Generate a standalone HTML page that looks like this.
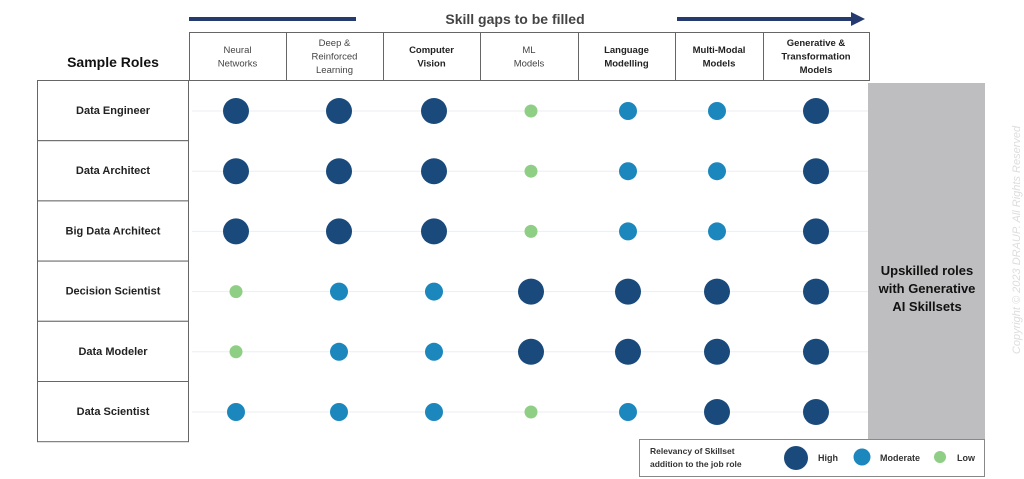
<!DOCTYPE html>
<html><head><meta charset="utf-8"><style>
html,body{margin:0;padding:0;background:#fff;}
svg{display:block;font-family:"Liberation Sans",sans-serif;}
</style></head><body>
<svg id="chart" width="1024" height="479" viewBox="0 0 1024 479">
<rect x="0" y="0" width="1024" height="479" fill="#fff"/>
<rect x="189" y="17" width="167" height="4" fill="#253a6e"/>
<rect x="677" y="17" width="175" height="4" fill="#253a6e"/>
<polygon points="851,12 865,19 851,26" fill="#253a6e"/>
<text x="515" y="24" text-anchor="middle" font-size="14" font-weight="bold" fill="#444">Skill gaps to be filled</text>
<text x="113" y="67" text-anchor="middle" font-size="14" font-weight="bold" fill="#111">Sample Roles</text>
<g id="grid"></g>
<rect x="868" y="83" width="117" height="357" fill="#bebdc0"/>
<text text-anchor="middle" font-size="13" font-weight="bold" fill="#111">
<tspan x="927" y="275">Upskilled roles</tspan><tspan x="927" y="293">with Generative</tspan><tspan x="927" y="311">AI Skillsets</tspan></text>
<text x="0" y="0" transform="translate(1020,240) rotate(-90)" text-anchor="middle" font-size="11" font-style="italic" fill="#ddd">Copyright © 2023 DRAUP. All Rights Reserved</text>
<g>
<rect x="639.5" y="439.5" width="345" height="37" fill="#fff" stroke="#888"/>
<text font-size="8.5" font-weight="bold" fill="#333"><tspan x="650" y="454">Relevancy of Skillset</tspan><tspan x="650" y="467">addition to the job role</tspan></text>
<circle cx="796" cy="458" r="12" fill="#1a4a7c"/>
<text x="818" y="461" font-size="9" font-weight="bold" fill="#333">High</text>
<circle cx="862" cy="457" r="8.5" fill="#1b87bd"/>
<text x="880" y="461" font-size="9" font-weight="bold" fill="#333">Moderate</text>
<circle cx="940" cy="457" r="6" fill="#8fcf85"/>
<text x="957" y="461" font-size="9" font-weight="bold" fill="#333">Low</text>
</g>
</svg>
<script>
const skills = [["Neural","Networks"],["Deep &","Reinforced","Learning"],["Computer","Vision"],["ML","Models"],["Language","Modelling"],["Multi-Modal","Models"],["Generative &","Transformation","Models"]];
const skillBold = [false,false,true,false,true,true,true];
const roles = ["Data Engineer","Data Architect","Big Data Architect","Decision Scientist","Data Modeler","Data Scientist"];
const relevancy = [
 [2,2,2,0,1,1,2],
 [2,2,2,0,1,1,2],
 [2,2,2,0,1,1,2],
 [0,1,1,2,2,2,2],
 [0,1,1,2,2,2,2],
 [1,1,1,0,1,2,2]
];
const levelNames = ["low","moderate","high"];
const colBounds = [189,286,383,480,578,675,763,869];
const dotX = [236,339,434,531,628,717,816];
const radius = [6.5,9,13];
const colors = ["#8fcf85","#1b87bd","#1a4a7c"];
function xPos(i){return dotX[i];}
function yPos(j){return 111 + j*60.2;}
const NS="http://www.w3.org/2000/svg";
const g=document.getElementById('grid');
function mk(tag,attrs){const e=document.createElementNS(NS,tag);for(const k in attrs)e.setAttribute(k,attrs[k]);g.appendChild(e);return e;}
// header boxes
skills.forEach((s,i)=>{
 const r=mk('rect',{x:colBounds[i]+0.5,y:32.5,width:colBounds[i+1]-colBounds[i],height:48,fill:'#fff',stroke:'#666'});
 
 
 const t=mk('text',{'text-anchor':'middle','font-size':'9.5','font-weight':skillBold[i]?'bold':'normal',fill:skillBold[i]?'#222':'#444'});
 
 
 const cx=(colBounds[i]+colBounds[i+1])/2;
 const y0=s.length===3?46:53;
 s.forEach((line,k)=>{const ts=document.createElementNS(NS,'tspan');ts.setAttribute('x',cx);ts.setAttribute('y',y0+k*13.5);ts.textContent=line;t.appendChild(ts);});
});
// rows
roles.forEach((r,j)=>{
 const top=80+j*60.2;
 const l=mk('line',{x1:192,x2:868,y1:yPos(j),y2:yPos(j),stroke:'#eceef2','stroke-width':1});
 
 
 const b=mk('rect',{x:37.5,y:top+0.5,width:151,height:60.2,fill:'#fff',stroke:'#666'});
 
 
 const t=mk('text',{x:113,y:top+34,'text-anchor':'middle','font-size':'11','font-weight':'bold',fill:'#222'});
 t.textContent=r;
 
 
 relevancy[j].forEach((v,i)=>{
  const c=mk('circle',{cx:xPos(i),cy:yPos(j),r:radius[v],fill:colors[v]});
  
  
 });
});
</script>
</body></html>
